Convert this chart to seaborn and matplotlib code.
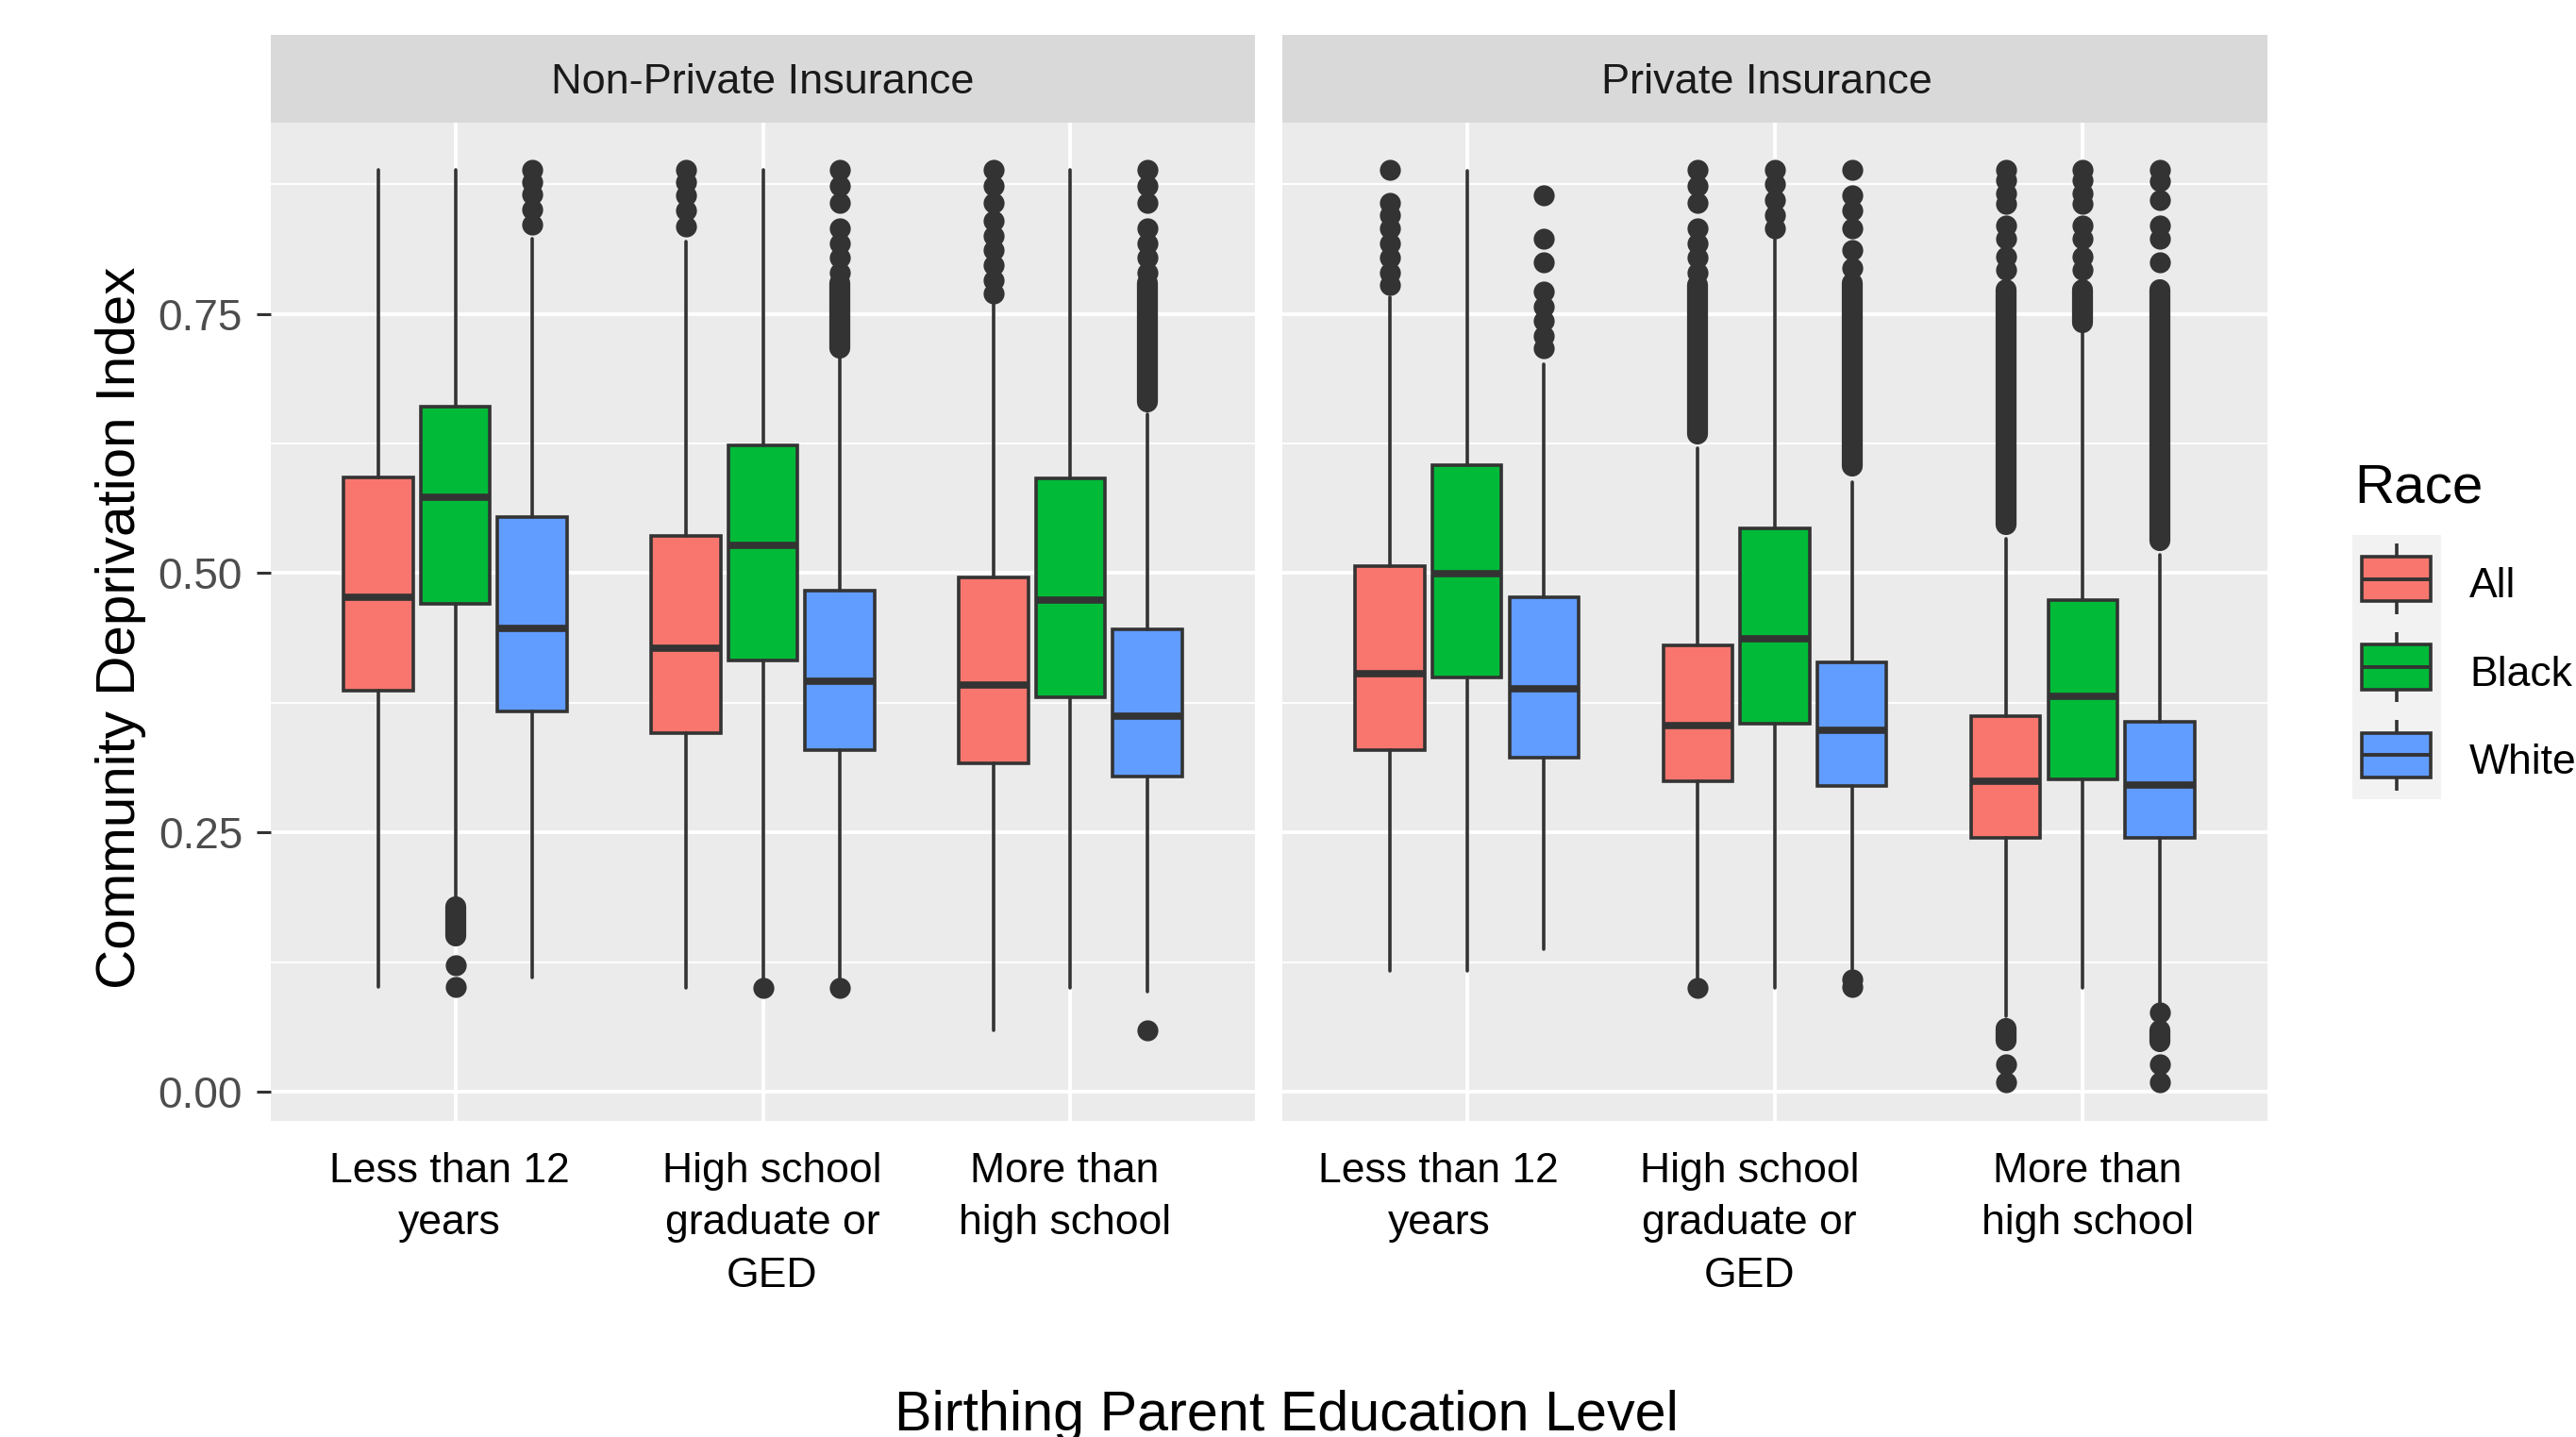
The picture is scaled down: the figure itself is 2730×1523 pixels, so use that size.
import matplotlib
matplotlib.use("Agg")
import matplotlib.pyplot as plt
from matplotlib.patches import Rectangle
from matplotlib.transforms import ScaledTranslation, blended_transform_factory
import seaborn as sns

# ---------------------------------------------------------------- data
insurance_types = ["Non-Private Insurance", "Private Insurance"]
education_levels = ["Less than 12\nyears",
                    "High school\ngraduate or\nGED",
                    "More than\nhigh school"]
races = ["All", "Black", "White"]

# Box statistics, indexed [insurance][education][race]
q1 = [
    [[0.387, 0.470, 0.367], [0.346, 0.416, 0.329], [0.317, 0.380, 0.304]],
    [[0.329, 0.399, 0.322], [0.299, 0.355, 0.295], [0.245, 0.301, 0.245]],
]
median = [
    [[0.477, 0.573, 0.447], [0.428, 0.527, 0.396], [0.392, 0.474, 0.362]],
    [[0.403, 0.499, 0.388], [0.353, 0.437, 0.348], [0.299, 0.381, 0.296]],
]
q3 = [
    [[0.592, 0.660, 0.554], [0.536, 0.623, 0.483], [0.496, 0.591, 0.446]],
    [[0.507, 0.604, 0.477], [0.430, 0.543, 0.414], [0.362, 0.474, 0.357]],
]
whisker_low = [
    [[0.101, 0.188, 0.110], [0.100, 0.107, 0.108], [0.059, 0.100, 0.096]],
    [[0.116, 0.116, 0.137], [0.108, 0.100, 0.118], [0.073, 0.100, 0.084]],
]
whisker_high = [
    [[0.889, 0.889, 0.822], [0.820, 0.889, 0.707], [0.761, 0.889, 0.653]],
    [[0.766, 0.888, 0.701], [0.620, 0.822, 0.588], [0.533, 0.733, 0.518]],
]

# Individual outlying observations
outlier_points = [
    [
        [[],
         [0.122, 0.101],
         [0.889, 0.877, 0.865, 0.851, 0.836]],
        [[0.889, 0.877, 0.864, 0.850, 0.834],
         [0.100],
         [0.889, 0.873, 0.857, 0.832, 0.818, 0.804, 0.790, 0.100]],
        [[0.889, 0.873, 0.857, 0.840, 0.825, 0.811, 0.797, 0.782, 0.770],
         [],
         [0.889, 0.873, 0.857, 0.832, 0.818, 0.804, 0.790, 0.059]],
    ],
    [
        [[0.889, 0.857, 0.845, 0.832, 0.818, 0.804, 0.790, 0.778],
         [],
         [0.864, 0.822, 0.800, 0.771, 0.757, 0.743, 0.729, 0.717]],
        [[0.889, 0.873, 0.857, 0.832, 0.818, 0.804, 0.790, 0.100],
         [0.889, 0.875, 0.860, 0.845, 0.832],
         [0.889, 0.864, 0.850, 0.832, 0.811, 0.794, 0.108, 0.101]],
        [[0.889, 0.879, 0.866, 0.856, 0.835, 0.822, 0.805, 0.792, 0.026, 0.009],
         [0.889, 0.879, 0.866, 0.856, 0.835, 0.822, 0.805, 0.792],
         [0.889, 0.878, 0.860, 0.835, 0.822, 0.800, 0.076, 0.026, 0.009]],
    ],
]

# Stretches where outliers overlap into a solid column: [start, end]
outlier_runs = [
    [
        [[], [[0.150, 0.178]], []],
        [[], [], [[0.717, 0.780]]],
        [[], [], [[0.665, 0.780]]],
    ],
    [
        [[], [], []],
        [[[0.634, 0.778]], [], [[0.603, 0.780]]],
        [[[0.547, 0.773], [0.049, 0.061]],
         [[0.741, 0.773]],
         [[0.531, 0.773], [0.048, 0.059]]],
    ],
]

# ---------------------------------------------------------------- style
race_colors = sns.color_palette(["#F8766D", "#00BA38", "#619CFF"])
ink = "#333333"
panel_bg = "#EBEBEB"
strip_bg = "#D9D9D9"

sns.set_theme(style="darkgrid", rc={
    "axes.facecolor": panel_bg,
    "grid.color": "white",
    "figure.facecolor": "white",
})
plt.rcParams["font.family"] = ["Liberation Sans", "DejaVu Sans"]

W, H = 2730, 1523
fig = plt.figure(figsize=(W / 100, H / 100), dpi=100)


def frame(x0, y0, x1, y1):
    """Figure-fraction rectangle from pixel edges measured from the top-left."""
    return [x0 / W, 1 - y1 / H, (x1 - x0) / W, (y1 - y0) / H]


def shift(dx_px, dy_px=0):
    """Pixel offset for a text artist."""
    return ScaledTranslation(dx_px / fig.dpi, dy_px / fig.dpi,
                             fig.dpi_scale_trans)


panel_edges = [(287, 1330), (1359, 2403)]
panel_top, panel_bottom, strip_top = 129.5, 1188, 37
label_shift = [[-6, 10, -6], [-30, -27, 5]]
strip_shift = [0, -9]
dodge = [-0.25, 0.0, 0.25]
box_width = 0.225
dot_size = 16
line_w = 2.6

for p, panel_name in enumerate(insurance_types):
    x0, x1 = panel_edges[p]
    ax = fig.add_axes(frame(x0, panel_top, x1, panel_bottom))
    ax.set_facecolor(panel_bg)
    ax.set_xlim(0.4, 3.6)
    ax.set_ylim(-0.0282, 0.9347)
    ax.set_yticks([0.0, 0.25, 0.5, 0.75])
    ax.set_yticks([0.125, 0.375, 0.625, 0.875], minor=True)
    ax.set_xticks([1, 2, 3])
    ax.set_xticklabels([])
    ax.grid(which="major", color="white", linewidth=2.8)
    ax.grid(which="minor", axis="y", color="white", linewidth=1.4)
    ax.set_axisbelow(True)
    for s in ax.spines.values():
        s.set_visible(False)
    ax.tick_params(axis="x", which="both", length=0)
    ax.tick_params(axis="y", which="minor", length=0)
    if p == 0:
        ax.set_yticklabels(["0.00", "0.25", "0.50", "0.75"])
        ax.tick_params(axis="y", which="major", left=True, length=10.8,
                       width=2.2, color=ink, pad=10.8, labelsize=33,
                       labelcolor="#4D4D4D")
    else:
        ax.set_yticklabels([])
        ax.tick_params(axis="y", which="major", left=False, length=0)

    # category labels under each group
    base = blended_transform_factory(ax.transData, ax.transAxes)
    for e, label in enumerate(education_levels):
        ax.text(e + 1, 0, label, ha="center", va="top",
                multialignment="center", linespacing=1.45, fontsize=32,
                color="black",
                transform=base + shift(label_shift[p][e], -33))

    for e in range(len(education_levels)):
        for r in range(len(races)):
            pos = e + 1 + dodge[r]
            stats = [dict(med=median[p][e][r], q1=q1[p][e][r], q3=q3[p][e][r],
                          whislo=whisker_low[p][e][r],
                          whishi=whisker_high[p][e][r],
                          fliers=outlier_points[p][e][r])]
            ax.bxp(stats, positions=[pos], widths=box_width,
                   patch_artist=True, showcaps=False, manage_ticks=False,
                   boxprops=dict(facecolor=race_colors[r], edgecolor=ink,
                                 linewidth=line_w),
                   medianprops=dict(color=ink, linewidth=5.5,
                                    solid_capstyle="butt"),
                   whiskerprops=dict(color=ink, linewidth=line_w),
                   flierprops=dict(marker="o", markerfacecolor=ink,
                                   markeredgewidth=0, markersize=dot_size,
                                   linestyle="none"))
            for lo, hi in outlier_runs[p][e][r]:
                ax.plot([pos, pos], [lo, hi], color=ink, linewidth=dot_size,
                        solid_capstyle="round", zorder=2)

    # facet strip
    sax = fig.add_axes(frame(x0, strip_top, x1, panel_top))
    sax.set_facecolor(strip_bg)
    sax.set_xticks([])
    sax.set_yticks([])
    sax.grid(False)
    for s in sax.spines.values():
        s.set_visible(False)
    sax.text(0.5, 0.5, panel_name, ha="center", va="center_baseline",
             fontsize=32.5, color="#1A1A1A",
             transform=sax.transAxes + shift(strip_shift[p]))

# axis titles
fig.text(128 / W, 1 - 665 / H, "Community Deprivation Index", rotation=90,
         ha="center", va="center", fontsize=42, color="black")
fig.text(1363 / W, 1 - 1516 / H, "Birthing Parent Education Level",
         ha="center", va="baseline", fontsize=42.7, color="black")

# legend
fig.text(2495 / W, 1 - 533 / H, "Race", ha="left", va="baseline",
         fontsize=42, color="black")
lax = fig.add_axes(frame(2493, 567, 2587, 847))
lax.set_facecolor("#F2F2F2")
lax.set_xlim(0, 1)
lax.set_ylim(0, len(races))
lax.set_xticks([])
lax.set_yticks([])
lax.grid(False)
for s in lax.spines.values():
    s.set_visible(False)
label_baselines = [633, 727, 820]
for r, race in enumerate(races):
    cy = len(races) - r - 0.5
    lax.plot([0.495, 0.495], [cy - 0.40, cy + 0.40], color=ink,
             linewidth=line_w, solid_capstyle="butt", zorder=1)
    lax.add_patch(Rectangle((0.106, cy - 0.252), 0.777, 0.504,
                            facecolor=race_colors[r], edgecolor=ink,
                            linewidth=line_w, zorder=2))
    lax.plot([0.106, 0.883], [cy, cy], color=ink, linewidth=2.8,
             solid_capstyle="butt", zorder=3)
    fig.text(2617 / W, 1 - label_baselines[r] / H, race, ha="left",
             va="baseline", fontsize=32, color="black")

fig.savefig("out.png", dpi=100)
